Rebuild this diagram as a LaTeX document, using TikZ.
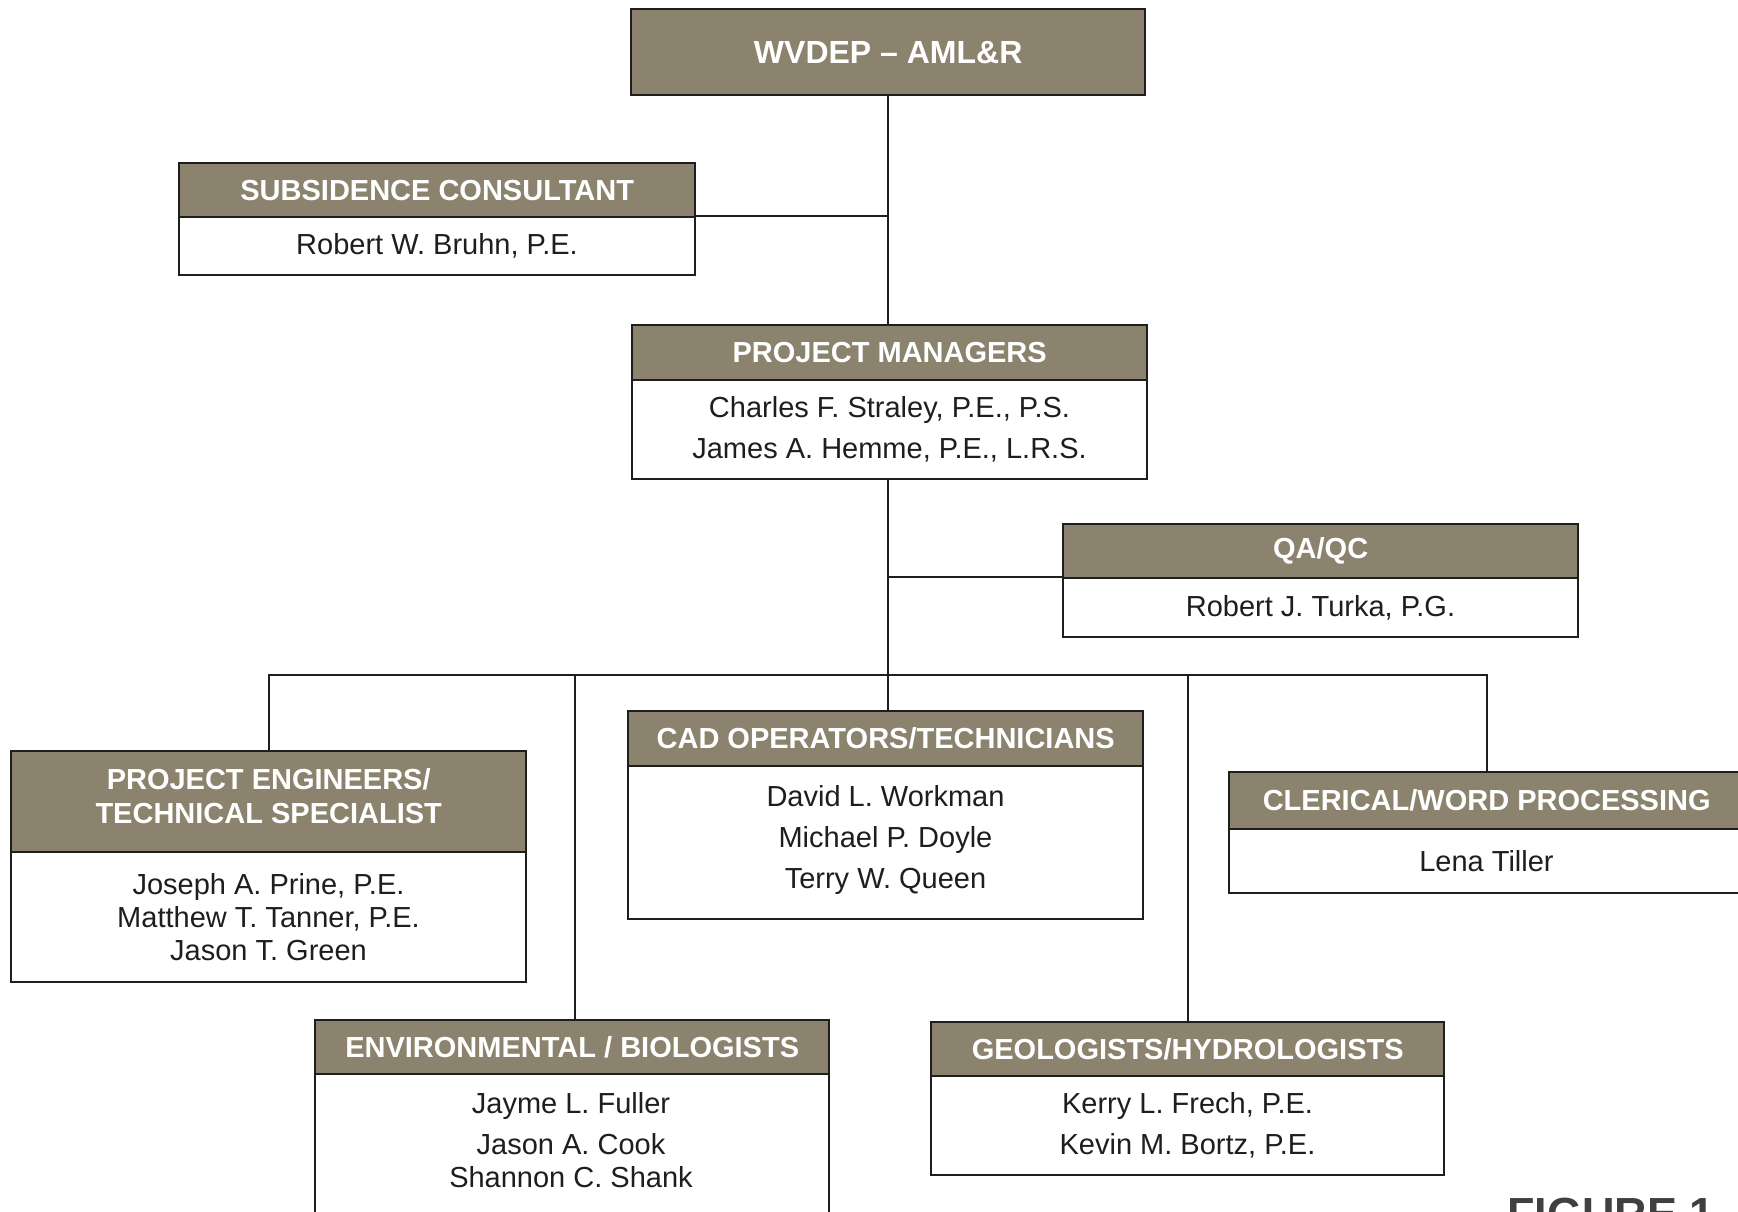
\documentclass[tikz,border=0pt]{standalone}
\usepackage{fontspec}
\setmainfont{Liberation Sans}
\definecolor{hdrfill}{RGB}{139,131,110}
\definecolor{ink}{RGB}{30,30,30}
\tikzset{
  hdr/.style={draw=ink, line width=2.4pt, fill=hdrfill, text=white,
    font=\fontsize{29}{34}\selectfont\bfseries, anchor=north west,
    inner sep=0pt, align=center},
  bodybox/.style={draw=ink, line width=2pt, fill=white, text=ink,
    font=\fontsize{29}{41}\selectfont, anchor=north west,
    inner sep=0pt, align=center},
  names/.style={text=ink, font=\fontsize{29}{41}\selectfont, inner sep=0pt, align=center},
  conn/.style={draw=ink, line width=1.6pt},
}
\begin{document}
\begin{tikzpicture}[x=1pt,y=-1pt]
\useasboundingbox[fill=white] (0,0) rectangle (1738,1211);

% top
\node[hdr, minimum width=514, minimum height=86, font=\fontsize{32}{36}\selectfont\bfseries] (wv) at (630,8) {WVDEP – AML\&R};

% subsidence consultant
\node[bodybox, minimum width=516, minimum height=58] (subb) at (178,216) {Robert W. Bruhn, P.E.};
\node[hdr, minimum width=516, minimum height=54] (subh) at (178,162) {SUBSIDENCE CONSULTANT};

% project managers
\node[bodybox, minimum width=515, minimum height=99] (pmb) at (631,379) {Charles F. Straley, P.E., P.S.\\James A. Hemme, P.E., L.R.S.};
\node[hdr, minimum width=515, minimum height=55] (pmh) at (631,324) {PROJECT MANAGERS};

% QA/QC
\node[bodybox, minimum width=515, minimum height=59] (qab) at (1062,577) {Robert J. Turka, P.G.};
\node[hdr, minimum width=515, minimum height=54] (qah) at (1062,523) {QA/QC};

% project engineers
\node[bodybox, minimum width=515, minimum height=130, font=\fontsize{29}{33}\selectfont] (peb) at (10,851) {Joseph A. Prine, P.E.\\Matthew T. Tanner, P.E.\\Jason T. Green};
\node[hdr, minimum width=515, minimum height=101, align=none] (peh) at (10,750) {\raisebox{-4pt}[0pt][0pt]{\begin{tabular}{@{}c@{}}PROJECT ENGINEERS/\\TECHNICAL SPECIALIST\end{tabular}}};

% CAD
\node[bodybox, minimum width=515, minimum height=153, align=none] (cadb) at (627,765) {\raisebox{-3pt}[0pt][0pt]{\begin{tabular}{@{}c@{}}David L. Workman\\Michael P. Doyle\\Terry W. Queen\end{tabular}}};
\node[hdr, minimum width=515, minimum height=55] (cadh) at (627,710) {CAD OPERATORS/TECHNICIANS};

% clerical
\node[bodybox, minimum width=515, minimum height=64] (clb) at (1228,828) {Lena Tiller};
\node[hdr, minimum width=515, minimum height=57] (clh) at (1228,771) {CLERICAL/WORD PROCESSING};

% environmental
\node[bodybox, minimum width=514, minimum height=170] (envb) at (314,1073) {};
\node[hdr, minimum width=514, minimum height=54] (envh) at (314,1019) {ENVIRONMENTAL / BIOLOGISTS};
\node[names] (envn) at (571,1140) {Jayme L. Fuller\\Jason A. Cook\\[-8pt]Shannon C. Shank};

% geologists
\node[bodybox, minimum width=513, minimum height=99] (geob) at (930,1075) {Kerry L. Frech, P.E.\\Kevin M. Bortz, P.E.};
\node[hdr, minimum width=513, minimum height=54] (geoh) at (930,1021) {GEOLOGISTS/HYDROLOGISTS};

% figure caption (cut by page edge, as in the reference)
\node[anchor=base west, inner sep=0pt, text=ink!85, font=\fontsize{45}{45}\selectfont\bfseries] (fig) at (1507,1229) {FIGURE 1};

% connectors
\coordinate (bus) at (887,675);
\draw[conn] (wv.south) -- (wv.south |- pmh.north);
\draw[conn] (subb.north east) -- (subb.north east -| wv.south);
\draw[conn] (pmb.south -| wv.south) -- (wv.south |- cadh.north);
\draw[conn] (qab.north west) -- (qab.north west -| wv.south);
\draw[conn] (peh.north) -- (peh.north |- bus) -- (clh.north |- bus) -- (clh.north);
\draw[conn] (envh.north -| 575,0) -- (bus -| 575,0);
\draw[conn] (geoh.north) -- (geoh.north |- bus);
\end{tikzpicture}
\end{document}
